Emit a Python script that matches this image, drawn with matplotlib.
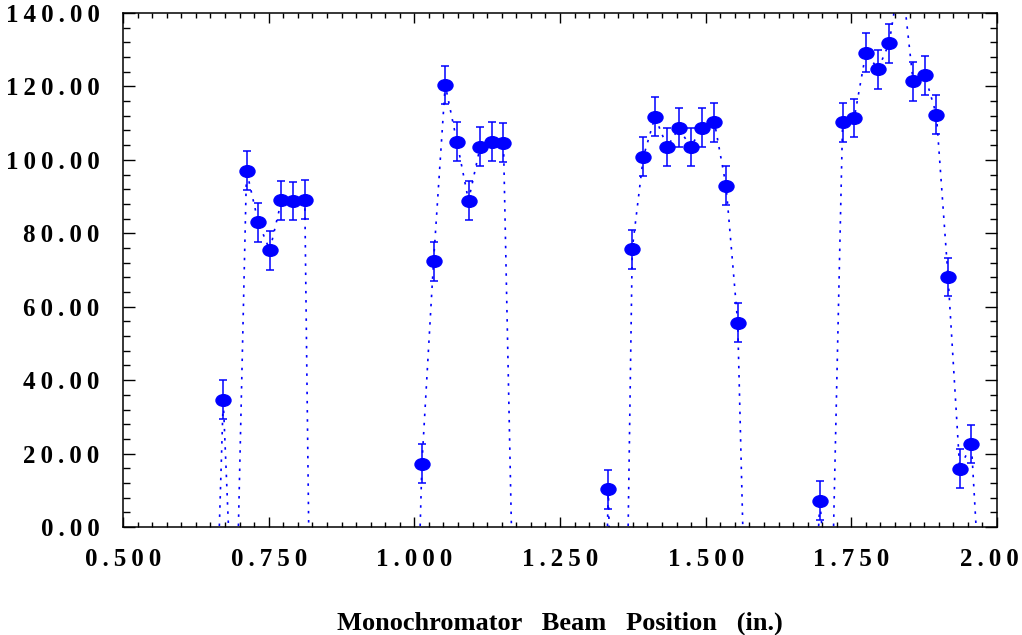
import matplotlib
matplotlib.use("Agg")
import matplotlib.pyplot as plt
from matplotlib.path import Path
from matplotlib.transforms import Affine2D, ScaledTranslation
from matplotlib.ticker import MultipleLocator, FixedLocator

# beam position (in.) and counts, four scans joined; negative values fall below the axis
scan1_x = [0.652, 0.672, 0.692, 0.712, 0.732, 0.752, 0.772, 0.792, 0.812, 0.832]
scan1_y = [-69, 34.7, -42, 97.1, 83.0, 75.4, 89.0, 88.8, 89.2, -177]
scan2_x = [0.993, 1.013, 1.033, 1.053, 1.073, 1.093, 1.113, 1.133, 1.153, 1.173]
scan2_y = [-97, 17.2, 72.4, 120.4, 105.0, 88.9, 103.6, 104.9, 104.7, -49]
scan3_x = [1.313, 1.333, 1.353, 1.374, 1.393, 1.413, 1.434, 1.454, 1.474, 1.494,
           1.515, 1.535, 1.555, 1.575]
scan3_y = [-118, 10.3, -150, 75.7, 100.8, 111.7, 103.5, 108.7, 103.5, 108.7,
           110.3, 92.9, 55.6, -72]
scan4_x = [1.676, 1.696, 1.715, 1.735, 1.755, 1.775, 1.796, 1.815, 1.835, 1.856,
           1.876, 1.896, 1.916, 1.936, 1.956, 1.976]
scan4_y = [-60, 7.2, -32, 110.2, 111.4, 129.2, 124.7, 131.8, 152, 121.4,
           123.1, 112.3, 68.1, 15.9, 22.6, -33]
count_err = 5.3

x_ticks = [0.5, 0.75, 1.0, 1.25, 1.5, 1.75, 2.0]
x_tick_labels = ["0.500", "0.750", "1.000", "1.250", "1.500", "1.750", "2.00"]
y_ticks = [0, 20, 40, 60, 80, 100, 120, 140]
y_tick_labels = ["0.00", "20.00", "40.00", "60.00", "80.00", "100.00", "120.00", "140.00"]

xs = scan1_x + scan2_x + scan3_x + scan4_x
ys = scan1_y + scan2_y + scan3_y + scan4_y
errs = [count_err] * len(xs)

plt.rcParams['font.family'] = ['Liberation Serif', 'DejaVu Serif']
plt.rcParams['font.weight'] = 'bold'


def spaced(s):
    # the original labels are drawn with wide letter spacing
    return '\u2009'.join(s)


fig = plt.figure(figsize=(10.22, 6.35), dpi=100)
ax = fig.add_axes([123 / 1022, 1 - 527 / 635, (997 - 123) / 1022, (527 - 13) / 635])

ellipse = Path.unit_circle().transformed(Affine2D().scale(1, 0.78))

ax.plot(xs, ys, color='blue', lw=1.2, ls=(0, (1.5, 4.0)), zorder=1)
ax.errorbar(xs, ys, yerr=errs, fmt='none', ecolor='blue', elinewidth=1.1,
            capsize=3.2, capthick=1.1, zorder=2)
ax.plot(xs, ys, ls='none', marker=ellipse, ms=10.8, color='blue', zorder=3)

ax.set_xlim(0.5, 2.0)
ax.set_ylim(0, 140)

ax.xaxis.set_major_locator(FixedLocator(x_ticks))
ax.xaxis.set_minor_locator(MultipleLocator(0.025))
ax.yaxis.set_major_locator(FixedLocator(y_ticks))
ax.yaxis.set_minor_locator(MultipleLocator(4))
ax.set_xticklabels([spaced(t) for t in x_tick_labels], fontsize=18, fontweight='bold')
ax.set_yticklabels([spaced(t) for t in y_tick_labels], fontsize=18, fontweight='bold')

ax.tick_params(axis='both', which='both', direction='in', top=True, right=True,
               width=1.0, color='black')
ax.tick_params(axis='x', which='major', length=7.2, pad=15)
ax.tick_params(axis='x', which='minor', length=3.3)
ax.tick_params(axis='y', which='major', length=8.6, pad=17)
ax.tick_params(axis='y', which='minor', length=4.7)

# last x label sits a little left of its tick so it stays inside the picture
# (done after tick_params, which resets label transforms)
last = ax.xaxis.get_major_ticks()[-1].label1
last.set_transform(last.get_transform() + ScaledTranslation(-0.075, 0, fig.dpi_scale_trans))

for sp in ax.spines.values():
    sp.set_linewidth(1.1)

ax.set_xlabel("Monochromator   Beam   Position   (in.)", fontsize=19,
              fontweight='bold', labelpad=29)

fig.savefig("out.png", dpi=100)
